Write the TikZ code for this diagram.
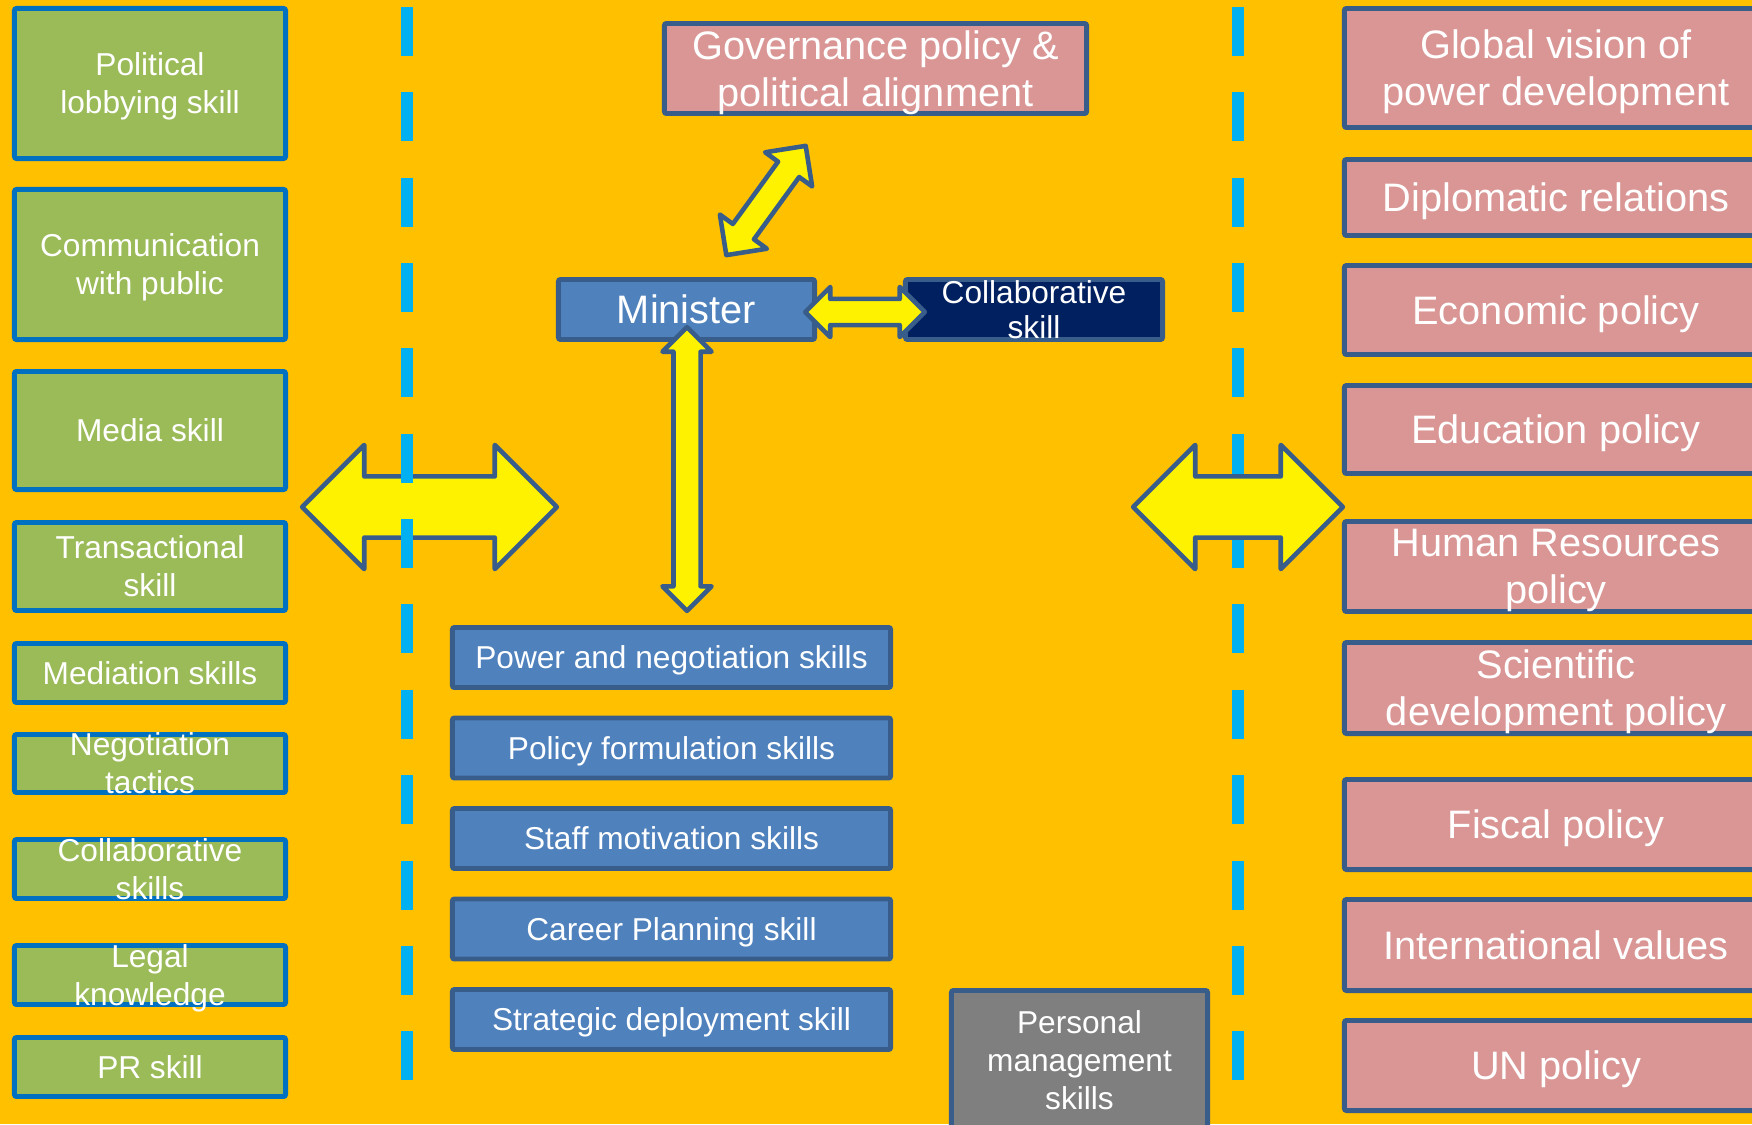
\documentclass[tikz,border=0pt]{standalone}
\usepackage{fontspec}
\setmainfont{Liberation Sans}
\usetikzlibrary{shapes.arrows}

\definecolor{bgorange}{HTML}{FFC000}
\definecolor{skillgreen}{HTML}{9BBB59}
\definecolor{greenedge}{HTML}{0070C0}
\definecolor{skillblue}{HTML}{4F81BD}
\definecolor{policypink}{HTML}{D99694}
\definecolor{navybox}{HTML}{002060}
\definecolor{graybox}{HTML}{7F7F7F}
\definecolor{edgeblue}{HTML}{385D8A}
\definecolor{dashblue}{HTML}{00B0F0}

\tikzset{
  box/.style={rectangle, draw=edgeblue, line width=1.4pt, rounded corners=0.6pt,
    text=white, align=center, inner xsep=0pt, inner ysep=-30pt, text depth=-2.2pt},
  smalltext/.style={font=\fontsize{9}{10.8}\selectfont},
  largetext/.style={font=\fontsize{11.3}{13.4}\selectfont},
  greenbox/.style={box, smalltext, fill=skillgreen, draw=greenedge, minimum width=2.71cm},
  bluebox/.style={box, smalltext, fill=skillblue, minimum width=4.38cm, minimum height=0.60cm},
  pinkbox/.style={box, largetext, fill=policypink, minimum width=4.23cm},
  dblarrow/.style={double arrow, draw=edgeblue, fill=yellow, line width=1.3pt,
    line join=round, inner sep=0pt, text depth=0pt, double arrow tip angle=90},
  divider/.style={draw=dashblue, line width=0.12cm, dash pattern=on 0.49cm off 0.363cm}
}

\begin{document}
\begin{tikzpicture}[x=0.01cm, y=-0.01cm]
\useasboundingbox (0,0) rectangle (1752,1124);
\fill[bgorange] (0,0) rectangle (1752,1124);

% right divider lies under its arrow
\draw[divider] (1238,7) -- (1238,1080);

% left column
\foreach \n/\y/\h/\t in {pol/83.5/1.50/{Political\\lobbying skill},
  com/264.5/1.50/{Communication\\with public},
  med/430.5/1.18/{Media skill},
  tra/566.5/0.88/{Transactional\\skill},
  mdn/673/0.59/{Mediation skills},
  neg/763.5/0.58/{Negotiation\\tactics},
  col/869/0.59/{Collaborative\\skills},
  leg/975/0.59/{Legal\\knowledge},
  prs/1067/0.59/{PR skill}}
  {\node[greenbox, minimum height=\h cm] (\n) at (150,\y) {\t};}

% middle
\node[box, largetext, fill=policypink, minimum width=4.22cm, minimum height=0.90cm] (gov) at (875.5,68.5) {Governance policy \&\\political alignment};
\node[box, largetext, fill=skillblue, minimum width=2.56cm, minimum height=0.60cm] (min) at (686.5,309.5) {Minister};
\node[box, fill=navybox, minimum width=2.57cm, minimum height=0.60cm, font=\fontsize{9}{10}\selectfont] (cls) at (1034,309.5) {Collaborative\\skill};

\foreach \n/\y/\t in {pow/657.5/{Power and negotiation skills},
  pfs/748/{Policy formulation skills},
  stm/838.5/{Staff motivation skills},
  car/929/{Career Planning skill},
  sdp/1019.5/{Strategic deployment skill}}
  {\node[bluebox] (\n) at (671.5,\y) {\t};}

\node[box, smalltext, fill=graybox, minimum width=2.56cm, minimum height=1.39cm] (per) at (1079.5,1060) {Personal\\management\\skills};

% right column
\foreach \n/\y/\h/\t in {glo/68/1.19/{Global vision of\\power development},
  dip/197.5/0.76/{Diplomatic relations},
  eco/310/0.89/{Economic policy},
  edu/429.5/0.88/{Education policy},
  hrp/566.5/0.90/{Human Resources\\policy},
  sci/688/0.91/{Scientific\\development policy},
  fis/824.5/0.90/{Fiscal policy},
  int/945/0.91/{International values},
  unp/1065.5/0.90/{UN policy}}
  {\node[pinkbox, minimum height=\h cm] (\n) at (1556,\y) {\t};}

% block arrows
\node[dblarrow, text height=0.565cm, minimum height=2.545cm, minimum width=1.195cm, double arrow head extend=0.315cm] (larr) at (429.5,507) {};
\node[dblarrow, text height=0.565cm, minimum height=2.095cm, minimum width=1.195cm, double arrow head extend=0.315cm] (rarr) at (1238,507) {};
\node[dblarrow, rotate=90, text height=0.225cm, minimum height=2.835cm, minimum width=0.445cm, double arrow head extend=0.11cm] (varr) at (687,469) {};
\node[dblarrow, text height=0.215cm, minimum height=1.195cm, minimum width=0.455cm, double arrow head extend=0.12cm] (carr) at (865,312) {};
\node[dblarrow, rotate=54, text height=0.215cm, minimum height=1.35cm, minimum width=0.535cm, double arrow head extend=0.16cm] (garr) at (766,200.5) {};

% left divider lies over its arrow
\draw[divider] (407,7) -- (407,1080);

\end{tikzpicture}
\end{document}
